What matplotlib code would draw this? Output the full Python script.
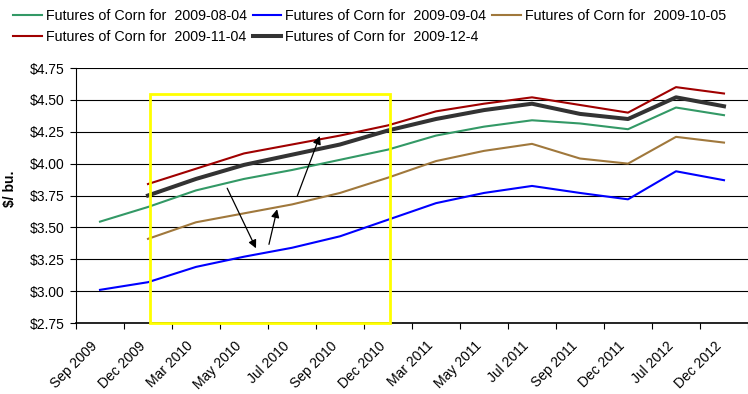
import numpy as np
import matplotlib.pyplot as plt
from matplotlib.patches import Rectangle
from matplotlib.ticker import FuncFormatter, FixedLocator
from matplotlib.transforms import ScaledTranslation

plt.rcParams['font.family'] = ['Liberation Sans', 'DejaVu Sans']

months = ['Sep 2009', 'Dec 2009', 'Mar 2010', 'May 2010', 'Jul 2010',
          'Sep 2010', 'Dec 2010', 'Mar 2011', 'May 2011', 'Jul 2011',
          'Sep 2011', 'Dec 2011', 'Jul 2012', 'Dec 2012']

corn_0804 = [3.545, 3.66, 3.79, 3.88, 3.95, 4.03, 4.11, 4.22, 4.29, 4.34,
             4.315, 4.27, 4.44, 4.38]
corn_0904 = [3.01, 3.07, 3.19, 3.27, 3.34, 3.43, 3.56, 3.69, 3.77, 3.825,
             3.77, 3.72, 3.94, 3.87]
corn_1005 = [np.nan, 3.41, 3.54, 3.61, 3.68, 3.77, 3.89, 4.02, 4.10, 4.155,
             4.04, 4.00, 4.21, 4.165]
corn_1104 = [np.nan, 3.84, 3.96, 4.08, 4.15, 4.22, 4.30, 4.41, 4.47, 4.52,
             4.46, 4.40, 4.60, 4.55]
corn_1204 = [np.nan, 3.75, 3.88, 3.99, 4.07, 4.15, 4.26, 4.35, 4.42, 4.47,
             4.39, 4.35, 4.52, 4.45]

x = np.arange(len(months))

fig = plt.figure(figsize=(7.48, 3.94), dpi=100)
ax = fig.add_axes([0.1016, 0.1802, 0.8984, 0.6472])

h1, = ax.plot(x, corn_0804, color='#339966', lw=1.5, label='Futures of Corn for  2009-08-04')
h2, = ax.plot(x, corn_0904, color='#0000FF', lw=1.5, label='Futures of Corn for  2009-09-04')
h3, = ax.plot(x, corn_1005, color='#A0783C', lw=1.5, label='Futures of Corn for  2009-10-05')
h4, = ax.plot(x, corn_1104, color='#A00000', lw=1.5, label='Futures of Corn for  2009-11-04')
h5, = ax.plot(x, corn_1204, color='#333333', lw=2.9, label='Futures of Corn for  2009-12-4')

ax.set_xlim(-0.5, len(months) - 0.5)
ax.set_ylim(2.75, 4.75)
ax.set_yticks(np.arange(2.75, 4.76, 0.25))
ax.yaxis.set_major_formatter(FuncFormatter(lambda v, p: '\\$%.2f' % v))
ax.grid(axis='y', color='black', lw=0.8)
ax.set_axisbelow(True)

# category labels at centres, tick marks on the boundaries
ax.set_xticks(x)
ax.set_xticklabels(months, rotation=45, ha='right', va='center',
                   rotation_mode='anchor')
ax.tick_params(axis='x', which='major', length=0, pad=15, labelsize=10)
shift = ScaledTranslation(-5 / 100, 0, fig.dpi_scale_trans)
for lab in ax.get_xticklabels():
    lab.set_transform(lab.get_transform() + shift)
ax.xaxis.set_minor_locator(FixedLocator(np.arange(-0.5, len(months), 1.0)))
ax.tick_params(axis='x', which='minor', length=4, direction='out', width=0.8)
ax.tick_params(axis='y', length=4, width=0.8, labelsize=10, pad=4)

for s in ['top', 'right']:
    ax.spines[s].set_visible(False)
ax.spines['left'].set_linewidth(0.8)
ax.spines['bottom'].set_linewidth(1.2)

ax.set_ylabel('\\$/ bu.', fontsize=10, fontweight='bold')
ax.yaxis.set_label_coords(-0.088, 0.525)

# highlight box and arrows
ax.add_patch(Rectangle((1.04, 2.75), 5.0, 1.80, fill=False, edgecolor='#FFFF00',
                       lw=2, clip_on=False, zorder=5))
arrow = dict(arrowstyle='-|>', color='black', lw=0.9, mutation_scale=12,
             shrinkA=0, shrinkB=0)
ax.annotate('', xy=(3.25, 3.336), xytext=(2.65, 3.807), arrowprops=arrow, zorder=6)
ax.annotate('', xy=(3.69, 3.642), xytext=(3.52, 3.367), arrowprops=arrow, zorder=6)
ax.annotate('', xy=(4.58, 4.217), xytext=(4.11, 3.746), arrowprops=arrow, zorder=6)

order = [h1, h4, h2, h5, h3]
fig.legend(order, [h.get_label() for h in order],
           ncol=3, loc='upper left', bbox_to_anchor=(0.006, 1.0), frameon=False,
           fontsize=10.3, handlelength=2.0, handletextpad=0.28, columnspacing=0.42,
           labelspacing=0.5, borderaxespad=0.2)

fig.savefig('out.png', dpi=100)
